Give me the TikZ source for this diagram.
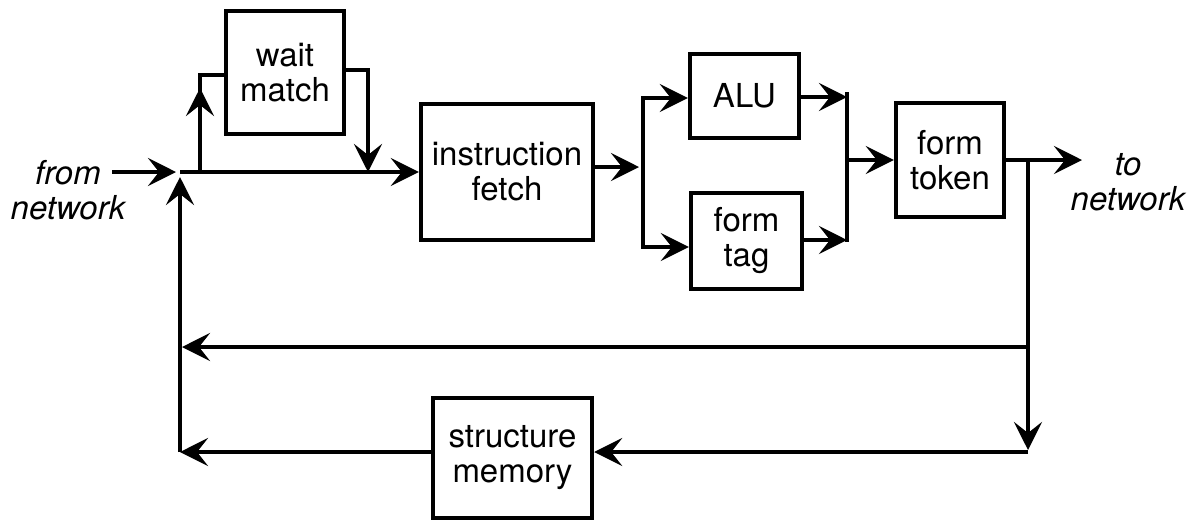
\documentclass[tikz,border=0pt]{standalone}
\usepackage{fontspec}
\setmainfont{TeX Gyre Heros}
\usetikzlibrary{arrows.meta}
\begin{document}
\begin{tikzpicture}[x=0.5pt,y=-0.5pt,
  blk/.style={draw,line width=2.2pt,inner sep=0pt,align=center,font=\fontsize{16.5}{17.5}\selectfont},
  ln/.style={line width=2pt},
  arr/.style={ln,-{Stealth[length=14pt,width=14pt,inset=5.5pt]}},
  lbl/.style={align=center,inner sep=0pt,font=\fontsize{16.5}{17.5}\selectfont\itshape}]
\useasboundingbox (0,0) rectangle (1199,521);
% blocks
\node[blk,minimum width=59pt,minimum height=61.5pt] (wm) at (285,72.5) {wait\\match};
\node[blk,minimum width=86pt,minimum height=68pt] (IF) at (507,172) {instruction\\fetch};
\node[blk,minimum width=54.5pt,minimum height=42pt] (ALU) at (744.5,96) {ALU};
\node[blk,minimum width=55.5pt,minimum height=48pt] (tag) at (746.5,241) {form\\tag};
\node[blk,minimum width=54pt,minimum height=57pt] (token) at (950,160) {form\\token};
\node[blk,minimum width=79.5pt,minimum height=60pt] (sm) at (512.5,458) {structure\\memory};
% labels
\node[lbl] (from) at (68,190) {from\\network};
\node[lbl] (to) at (1128,182) {to\\network};
% coordinates
\coordinate (fs) at (112,172);
\coordinate (j) at (180,172);
\coordinate (wl) at (200,172);
\coordinate (wtip) at (200,88);
\coordinate (wmin) at ([yshift=-1.25pt]wm.west);
\coordinate (wout) at ([yshift=1.25pt]wm.east);
\coordinate (wr) at (368,172);
\coordinate (s) at (643,167);
\coordinate (sa) at (643,98);
\coordinate (sb) at (643,247);
\coordinate (ma) at (847,97);
\coordinate (mb) at (847,240);
\coordinate (m) at (847,160);
\coordinate (tn) at (1082,160);
\coordinate (r) at (1028,160);
\coordinate (r1) at (1028,347);
\coordinate (r2) at (1028,452);
\coordinate (l1) at (180,347);
\coordinate (l2) at (180,452);
% input path
\draw[arr] (fs) -- ([xshift=-2pt]j);
\draw[arr] (j) -- (IF.west |- j);
\draw[ln] (wl) -- (wl |- wmin) -- (wmin);
\draw[arr] (wl) -- (wtip);
\draw[arr] (wout) -- (wout -| wr) -- (wr);
% split
\draw[arr] (IF.east |- s) -- ([xshift=-2pt]s);
\draw[arr] (s) -- (sa) -- (ALU.west |- sa);
\draw[arr] (s) -- (sb) -- (tag.west |- sb);
% merge
\draw[arr] (ALU.east |- ma) -- (ma);
\draw[arr] (tag.east |- mb) -- (mb);
\draw[ln] ([yshift=2.5pt]ma) -- ([yshift=-1pt]mb);
\draw[arr] (m) -- (token.west);
% output
\draw[arr] (token.east) -- (tn);
\draw[arr] (r) -- ([yshift=1pt]r2);
\draw[arr] (r1) -- ([xshift=1pt]l1);
\draw[arr] (r2) -- (sm.east |- r2);
\draw[arr] (sm.west |- l2) -- (l2);
\draw[arr] (l2) -- ([yshift=-2.5pt]j);
\end{tikzpicture}
\end{document}
